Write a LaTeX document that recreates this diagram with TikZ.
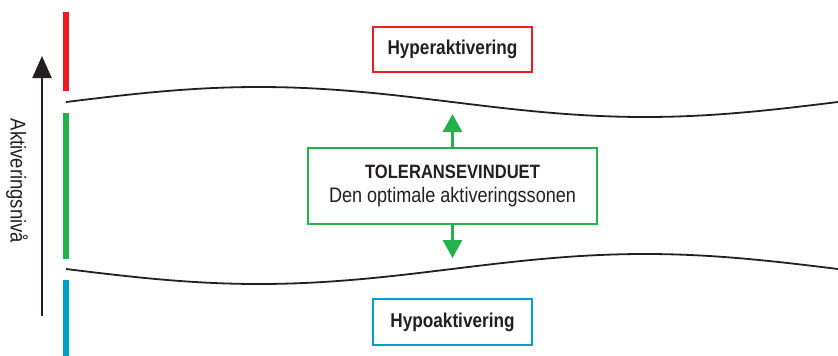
\documentclass[tikz,border=0pt]{standalone}
\usepackage{fontspec}
\setmainfont{Liberation Sans}[FakeStretch=0.86]
\usetikzlibrary{arrows.meta}

\definecolor{hyperred}{RGB}{237,28,36}
\definecolor{tolgreen}{RGB}{34,177,76}
\definecolor{hypoblue}{RGB}{0,160,198}
\definecolor{inkgray}{RGB}{35,31,32}

\tikzset{
	zonebox/.style={draw=#1,line width=2pt,fill=white,text=inkgray,align=center,inner sep=0pt},
	zonebar/.style={fill=#1,draw=none},
	bound/.style={draw=inkgray,line width=1.8pt},
	widen/.style={-{Triangle[length=18pt,width=19pt]},draw=tolgreen,line width=3pt}
}

\begin{document}
\begin{tikzpicture}[x=1pt,y=-1pt]
	
	\useasboundingbox (0,0) rectangle (838,356);
	
	% aktiveringsnivaa
	\coordinate (lvllow) at (42,316);
	\coordinate (lvlhigh) at (42,56);
	\draw[inkgray,line width=2pt,-{Triangle[length=22pt,width=19pt]}] (lvllow) -- (lvlhigh);
	\node[rotate=-90,text=inkgray,font=\fontsize{21.5}{24}\selectfont] (lvl) at (17,181) {Aktiveringsniv\aa};
	
	\filldraw[zonebar=hyperred] (63,12) rectangle ++(6,79);
	\filldraw[zonebar=tolgreen] (63,113) rectangle ++(6,146);
	\filldraw[zonebar=hypoblue] (63,280) rectangle ++(6,76);
	
	% grensene for vinduet
	\draw[bound] plot[domain=66:838,samples=80,smooth] (\x,{102-15*sin((\x-66)/772*360)});
	\draw[bound] plot[domain=66:838,samples=80,smooth] (\x,{269+15*sin((\x-66)/772*360)});
	
	\node[zonebox=hyperred,minimum width=159pt,minimum height=45pt,font=\bfseries\fontsize{20}{22}\selectfont] (hyper) at (452.5,49.5) {Hyperaktivering};
	\node[zonebox=hypoblue,minimum width=159pt,minimum height=46pt,font=\bfseries\fontsize{20}{22}\selectfont] (hypo) at (452.5,322) {Hypoaktivering};
	
	\node[zonebox=tolgreen,minimum width=289pt,minimum height=76pt,font=\fontsize{21}{24}\selectfont] (window) at (452.5,186) {{\bfseries\fontsize{19.3}{24}\selectfont TOLERANSEVINDUET}\\Den optimale aktiveringssonen};
	
	\coordinate (wintop) at (452.5,114);
	\coordinate (winbot) at (452.5,258);
	\draw[widen] (window.north) -- (wintop);
	\draw[widen] (window.south) -- (winbot);
	
\end{tikzpicture}
\end{document}
